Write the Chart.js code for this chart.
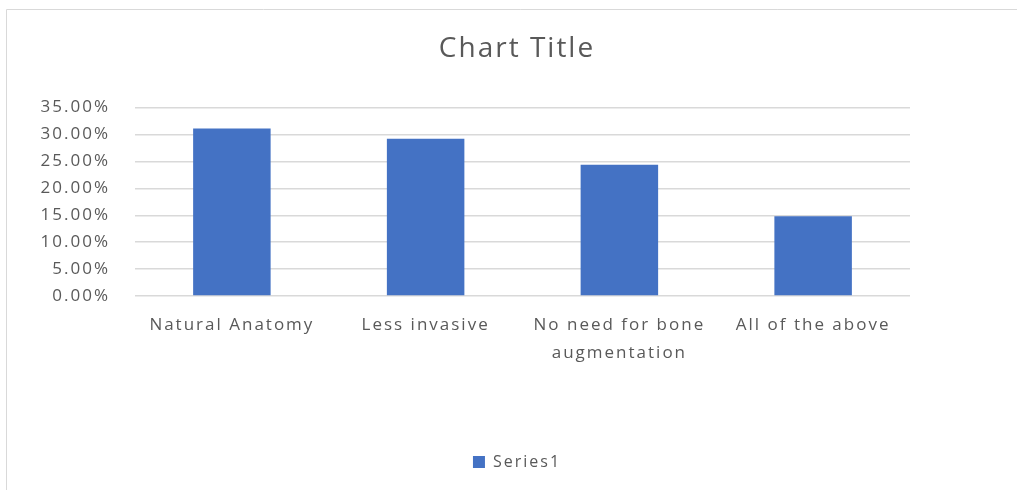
<!DOCTYPE html>
<html>
<head>
<meta charset="utf-8">
<script src="https://cdn.jsdelivr.net/npm/chart.js@4/dist/chart.umd.min.js"></script>
<style>
  html, body { margin: 0; padding: 0; background: #ffffff; overflow: hidden; }
  #wrap { position: absolute; left: 0; top: 0; width: 1034px; height: 490px; }
</style>
</head>
<body>
<div id="wrap"><canvas id="c" width="1034" height="490"></canvas></div>
<script>
const categories = [
  'Natural Anatomy',
  'Less invasive',
  ['No need for bone', 'augmentation'],
  'All of the above'
];
const series1 = [0.311, 0.292, 0.244, 0.148];
const yTicks = [0, 0.05, 0.10, 0.15, 0.20, 0.25, 0.30, 0.35];

const textColor = '#595959';
const gridColor = '#d9d9d9';
const barColor = '#4472c4';
const fontFamily = '"Open Sans", "Noto Sans", sans-serif';

// outer frame of the chart box, plus wider text tracking
const frame = {
  id: 'frame',
  beforeUpdate(chart) { chart.ctx.letterSpacing = '2px'; },
  beforeDraw(chart) {
    const ctx = chart.ctx;
    ctx.letterSpacing = '2px';
    ctx.save();
    ctx.strokeStyle = '#d9d9d9';
    ctx.lineWidth = 1;
    ctx.beginPath();
    ctx.moveTo(6.5, 490);
    ctx.lineTo(6.5, 9.5);
    ctx.lineTo(1034, 9.5);
    ctx.stroke();
    ctx.restore();
  }
};

new Chart(document.getElementById('c'), {
  type: 'bar',
  data: {
    labels: categories,
    datasets: [{
      label: 'Series1',
      data: series1,
      backgroundColor: barColor,
      borderWidth: 0,
      categoryPercentage: 0.8,
      barPercentage: 0.5
    }]
  },
  options: {
    responsive: false,
    animation: false,
    layout: { padding: { left: 0, right: 0, top: 0, bottom: 10 } },
    plugins: {
      title: {
        display: true,
        text: 'Chart Title',
        color: textColor,
        font: { family: fontFamily, size: 28, weight: 'normal' },
        padding: { top: 32, bottom: 42 }
      },
      legend: {
        display: true,
        position: 'bottom',
        labels: {
          color: textColor,
          font: { family: fontFamily, size: 16 },
          boxWidth: 12,
          boxHeight: 12,
          padding: 10
        }
      },
      tooltip: { enabled: false }
    },
    scales: {
      x: {
        grid: { display: false, drawTicks: false },
        border: { display: false },
        ticks: {
          color: textColor,
          font: { family: fontFamily, size: 17, lineHeight: '28px' },
          padding: 15,
          maxRotation: 0,
          autoSkip: false
        },
        afterFit(s) { s.height = 148; }
      },
      y: {
        min: 0,
        max: 0.35,
        afterBuildTicks(s) { s.ticks = yTicks.map(v => ({ value: v })); },
        grid: { color: gridColor, lineWidth: 1.5, drawTicks: false },
        border: { display: false },
        ticks: {
          color: textColor,
          font: { family: fontFamily, size: 17 },
          padding: 25,
          callback: v => (v * 100).toFixed(2) + '%'
        },
        afterFit(s) { s.width = 135; }
      },
      // empty right-hand margin of the plot
      yRight: {
        position: 'right',
        min: 0,
        max: 0.35,
        grid: { display: false, drawTicks: false },
        border: { display: false },
        ticks: { display: false },
        afterFit(s) { s.width = 124; }
      }
    }
  },
  plugins: [frame]
});
</script>
</body>
</html>
